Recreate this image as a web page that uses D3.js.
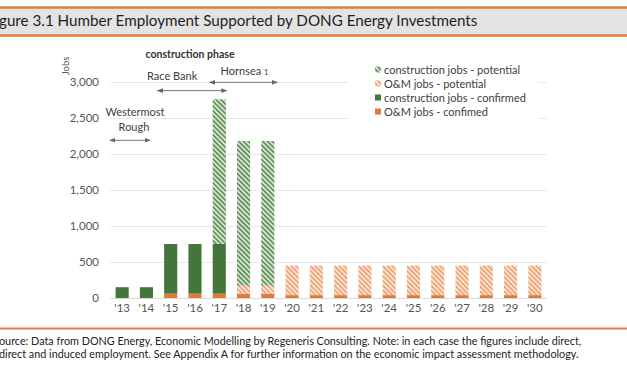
<!DOCTYPE html>
<html>
<head>
<meta charset="utf-8">
<script src="https://cdn.jsdelivr.net/npm/d3@7"></script>
<style>
    body { margin: 0; background: #fff; }
    svg { display: block; font-family: Lato, 'Open Sans', sans-serif; }
</style>
</head>
<body>
<svg width="627" height="376"></svg>
<script>
// chart values
var years = [ "'13", "'14", "'15", "'16", "'17", "'18", "'19", "'20", "'21", "'22", "'23", "'24", "'25", "'26", "'27", "'28", "'29", "'30" ],
    omConfirmed           = [ 0, 0, 60, 60, 60, 60, 60, 40, 40, 40, 40, 40, 40, 40, 40, 40, 40, 40 ],
    constructionConfirmed = [ 150, 150, 690, 690, 690, 0, 0, 0, 0, 0, 0, 0, 0, 0, 0, 0, 0, 0 ],
    omPotential           = [ 0, 0, 0, 0, 0, 110, 110, 410, 410, 410, 410, 410, 410, 410, 410, 410, 410, 410 ],
    constructionPotential = [ 0, 0, 0, 0, 2010, 2010, 2010, 0, 0, 0, 0, 0, 0, 0, 0, 0, 0, 0 ],
    yTicks = [ 0, 500, 1000, 1500, 2000, 2500, 3000 ],
    seriesKeys   = [ 'omConfirmed', 'constructionConfirmed', 'omPotential', 'constructionPotential' ],
    legendLabels = [ 'construction jobs - potential', 'O&M jobs - potential', 'construction jobs - confirmed', 'O&M jobs - confimed' ],
    legendKeys   = [ 'constructionPotential', 'omPotential', 'constructionConfirmed', 'omConfirmed' ],
    phases = [
        { label: 'Westermost', label2: 'Rough', from: "'13", to: "'14", level: 2190, shift: 5 },
        { label: 'Race Bank', from: "'15", to: "'17", level: 2880, shift: -20 },
        { label: 'Hornsea', sub: '1', from: "'17", to: "'19", level: 2995, shift: 1 }
    ];

var svg = d3.select( 'svg' ),
    x = d3.scaleBand().domain( years ).range( [ 110, 547 ] ).paddingInner( 0.46 ).paddingOuter( 0.23 ),
    y = d3.scaleLinear().domain( [ 0, 3000 ] ).range( [ 298, 82 ] ),
    defs = svg.append( 'defs' );

var fills = {
    omConfirmed           : '#df7a37',
    constructionConfirmed : '#44763b',
    omPotential           : 'url(#hatchOrange)',
    constructionPotential : 'url(#hatchGreen)'
};

function hatch( id, bg, fg ) {
    var p = defs.append( 'pattern' )
        .attr( 'id', id )
        .attr( 'patternUnits', 'userSpaceOnUse' )
        .attr( 'width', 3.4 )
        .attr( 'height', 3.4 )
        .attr( 'patternTransform', 'rotate(-45)' );
    p.append( 'rect' ).attr( 'width', 3.4 ).attr( 'height', 3.4 ).attr( 'fill', bg );
    p.append( 'rect' ).attr( 'width', 1.6 ).attr( 'height', 3.4 ).attr( 'fill', fg );
}
hatch( 'hatchGreen', '#d7e4d3', '#5d8d53' );
hatch( 'hatchOrange', '#fbe2d2', '#eda272' );

// header band
svg.append( 'rect' ).attr( 'x', 0 ).attr( 'y', 8 ).attr( 'width', 627 ).attr( 'height', 27 ).attr( 'fill', '#e3e3e3' );
svg.append( 'line' ).attr( 'x1', 0 ).attr( 'x2', 627 ).attr( 'y1', 7.5 ).attr( 'y2', 7.5 ).attr( 'stroke', '#e27d3c' ).attr( 'stroke-width', 2.5 );
svg.append( 'line' ).attr( 'x1', 0 ).attr( 'x2', 627 ).attr( 'y1', 35.5 ).attr( 'y2', 35.5 ).attr( 'stroke', '#e27d3c' ).attr( 'stroke-width', 2.5 );
svg.append( 'text' )
    .attr( 'x', -1 ).attr( 'y', 26 )
    .attr( 'font-size', 15.2 ).attr( 'fill', '#1e1e1e' )
    .text( 'gure 3.1 Humber Employment Supported by DONG Energy Investments' );

// gridlines and y axis labels
svg.append( 'g' )
    .selectAll( 'line' )
    .data( yTicks )
    .enter().append( 'line' )
    .attr( 'x1', 110 ).attr( 'x2', 547 )
    .attr( 'y1', function ( d ) { return y( d ) + 0.5; } )
    .attr( 'y2', function ( d ) { return y( d ) + 0.5; } )
    .attr( 'stroke', function ( d ) { return d === 0 ? '#dadada' : '#e8e8e8'; } )
    .attr( 'stroke-width', 1.2 );

svg.append( 'g' )
    .attr( 'transform', 'translate(99,0)' )
    .call( d3.axisLeft( y ).tickValues( yTicks ).tickSize( 0 ).tickPadding( 0 ).tickFormat( d3.format( ',' ) ) )
    .call( function ( g ) { g.select( '.domain' ).remove(); } )
    .selectAll( 'text' )
    .attr( 'font-family', 'Lato, sans-serif' )
    .attr( 'font-size', 11.5 )
    .attr( 'fill', '#555' );

svg.append( 'text' )
    .attr( 'transform', 'translate(69,66) rotate(-90)' )
    .attr( 'text-anchor', 'middle' )
    .attr( 'font-size', 9.5 ).attr( 'fill', '#555' )
    .text( 'Jobs' );

// x axis labels
svg.append( 'g' )
    .attr( 'transform', 'translate(0,304)' )
    .call( d3.axisBottom( x ).tickSize( 0 ).tickPadding( 0 ) )
    .call( function ( g ) { g.select( '.domain' ).remove(); } )
    .selectAll( 'text' )
    .attr( 'font-family', 'Lato, sans-serif' )
    .attr( 'font-size', 11.5 )
    .attr( 'fill', '#555' );

// stacked bars
var table = years.map( function ( yr, i ) {
    return {
        year                  : yr,
        omConfirmed           : omConfirmed[ i ],
        constructionConfirmed : constructionConfirmed[ i ],
        omPotential           : omPotential[ i ],
        constructionPotential : constructionPotential[ i ]
    };
} );
var stacked = d3.stack().keys( seriesKeys )( table );

svg.append( 'g' )
    .selectAll( 'g' )
    .data( stacked )
    .enter().append( 'g' )
    .attr( 'fill', function ( s ) { return fills[ s.key ]; } )
    .selectAll( 'rect' )
    .data( function ( s ) { return s.filter( function ( d ) { return d[ 1 ] > d[ 0 ]; } ); } )
    .enter().append( 'rect' )
    .attr( 'x', function ( d ) { return x( d.data.year ); } )
    .attr( 'width', x.bandwidth() )
    .attr( 'y', function ( d ) { return y( d[ 1 ] ); } )
    .attr( 'height', function ( d ) { return y( d[ 0 ] ) - y( d[ 1 ] ); } );

// legend (white box hides gridline behind it)
var legend = svg.append( 'g' ).attr( 'transform', 'translate(348,62)' );
legend.append( 'rect' ).attr( 'width', 190 ).attr( 'height', 58 ).attr( 'fill', '#fff' );
legendKeys.forEach( function ( k, i ) {
    var row = legend.append( 'g' ).attr( 'transform', 'translate(27,' + ( 8 + i * 14 ) + ')' );
    row.append( 'rect' ).attr( 'x', 0 ).attr( 'y', -3.5 ).attr( 'width', 6 ).attr( 'height', 6 ).attr( 'fill', fills[ k ] );
    row.append( 'text' ).attr( 'x', 9 ).attr( 'y', 4 ).attr( 'font-size', 11 ).attr( 'fill', '#404040' ).text( legendLabels[ i ] );
} );

// construction phase annotations
var marker = defs.append( 'marker' )
    .attr( 'id', 'arrowHead' )
    .attr( 'viewBox', '0 0 10 10' )
    .attr( 'refX', 9 ).attr( 'refY', 5 )
    .attr( 'markerWidth', 6 ).attr( 'markerHeight', 6 )
    .attr( 'orient', 'auto-start-reverse' );
marker.append( 'path' ).attr( 'd', 'M0,1 L10,5 L0,9 Z' ).attr( 'fill', '#666' );

svg.append( 'text' )
    .attr( 'x', 190 ).attr( 'y', 58 )
    .attr( 'text-anchor', 'middle' )
    .attr( 'font-size', 10.5 ).attr( 'font-weight', 'bold' ).attr( 'fill', '#333' )
    .text( 'construction phase' );

var pad = ( x.step() - x.bandwidth() ) / 2;
phases.forEach( function ( p ) {
    var x1 = x( p.from ) - pad + ( p.from === "'13" ? 0 : -1 ),
        x2 = x( p.to ) + x.bandwidth() + ( p.to === "'14" ? -3 : 1 ),
        yy = y( p.level );
    if ( p.sub ) { x1 = x( p.from ) - 3; x2 = x( p.to ) + x.bandwidth() + 3; }
    var cx = ( x1 + x2 ) / 2 + p.shift;
    svg.append( 'line' )
        .attr( 'x1', x1 ).attr( 'x2', x2 )
        .attr( 'y1', yy ).attr( 'y2', yy )
        .attr( 'stroke', '#777' ).attr( 'stroke-width', 1 )
        .attr( 'marker-start', 'url(#arrowHead)' )
        .attr( 'marker-end', 'url(#arrowHead)' );
    var t = svg.append( 'text' )
        .attr( 'text-anchor', 'middle' )
        .attr( 'font-size', 11 ).attr( 'fill', '#404040' );
    if ( p.label2 ) {
        t.attr( 'x', cx ).attr( 'y', yy - 24 ).text( p.label );
        svg.append( 'text' ).attr( 'x', cx - 1 ).attr( 'y', yy - 9 )
            .attr( 'text-anchor', 'middle' ).attr( 'font-size', 11 ).attr( 'fill', '#404040' ).text( p.label2 );
    } else if ( p.sub ) {
        t.attr( 'x', cx ).attr( 'y', yy - 7 ).text( p.label + ' ' );
        t.append( 'tspan' ).attr( 'font-size', 7.5 ).text( p.sub );
    } else {
        t.attr( 'x', cx ).attr( 'y', yy - 11 ).text( p.label );
    }
} );

// footer
svg.append( 'line' ).attr( 'x1', 0 ).attr( 'x2', 627 ).attr( 'y1', 328.5 ).attr( 'y2', 328.5 ).attr( 'stroke', '#e27d3c' ).attr( 'stroke-width', 2 );
svg.append( 'text' ).attr( 'x', -1 ).attr( 'y', 345 ).attr( 'font-size', 10.8 ).attr( 'fill', '#222' )
    .text( 'ource: Data from DONG Energy, Economic Modelling by Regeneris Consulting.  Note: in each case the figures include direct,' );
svg.append( 'text' ).attr( 'x', -1 ).attr( 'y', 358 ).attr( 'font-size', 10.8 ).attr( 'fill', '#222' )
    .text( 'direct and induced employment. See Appendix A for further information on the economic impact assessment methodology.' );
</script>
</body>
</html>
